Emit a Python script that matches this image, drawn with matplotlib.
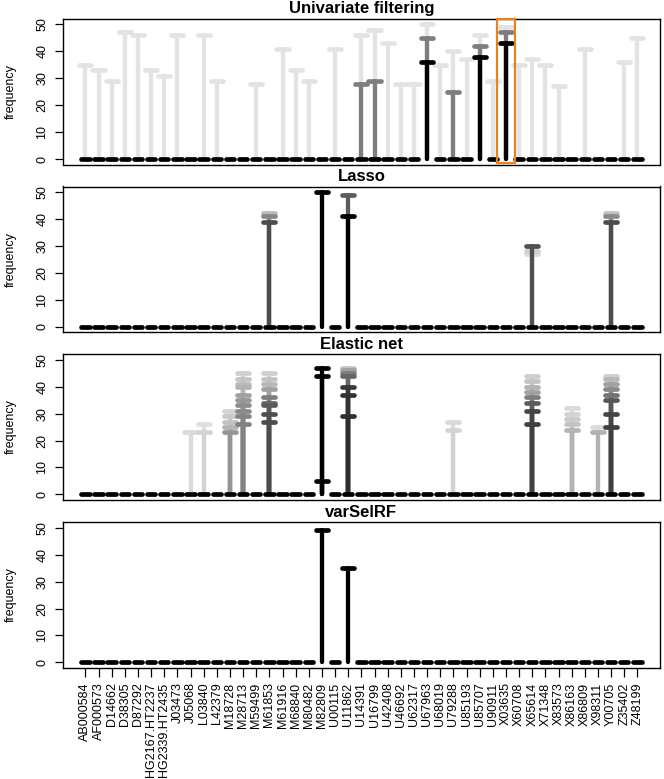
import matplotlib
matplotlib.use("Agg")
import matplotlib.pyplot as plt
from matplotlib.patches import Rectangle

plt.rcParams['font.family'] = ['Liberation Sans', 'DejaVu Sans']

genes = ["AB000584", "AF000573", "D14662", "D38305", "D87292", "HG2167.HT2237",
         "HG2339.HT2435", "J03473", "J05068", "L03840", "L42379", "M18728",
         "M28713", "M59499", "M61853", "M61916", "M68840", "M80482", "M82809",
         "U00115", "U11862", "U14391", "U16799", "U42408", "U46692", "U62317",
         "U67963", "U68019", "U79288", "U85193", "U85707", "U90911", "X03635",
         "X60708", "X65614", "X71348", "X83573", "X86163", "X86809", "X98311",
         "Y00705", "Z35402", "Z48199"]

# each panel: gene, selection frequency, weight (share of runs, 1 = darkest)
uni_gene = ["AB000584", "AF000573", "D14662", "D38305", "D87292", "HG2167.HT2237",
            "HG2339.HT2435", "J03473", "L03840", "L42379", "M59499", "M61916",
            "M68840", "M80482", "U00115", "U14391", "U14391", "U16799", "U16799",
            "U42408", "U46692", "U62317", "U67963", "U67963", "U67963", "U68019",
            "U79288", "U79288", "U85193", "U85707", "U85707", "U85707", "U90911",
            "X03635", "X03635", "X03635", "X60708", "X65614", "X71348", "X83573",
            "X86809", "Z35402", "Z48199"]
uni_freq = [35, 33, 29, 47, 46, 33, 31, 46, 46, 29, 28, 41, 33, 29, 41, 46, 28, 48, 29,
            43, 28, 28, 50, 45, 36, 35, 40, 25, 37, 46, 42, 38, 29, 49, 47, 43, 35, 37,
            35, 27, 41, 36, 45]
uni_wt = [0.01, 0.01, 0.01, 0.01, 0.01, 0.01, 0.01, 0.01, 0.01, 0.01, 0.01, 0.01, 0.01,
          0.01, 0.01, 0.01, 0.45, 0.01, 0.45, 0.01, 0.01, 0.01, 0.01, 0.45, 1.0, 0.01,
          0.01, 0.45, 0.01, 0.01, 0.45, 1.0, 0.01, 0.01, 0.45, 1.0, 0.01, 0.01, 0.01,
          0.01, 0.01, 0.01, 0.01]
uni_no_zero = ["U67963", "U85707", "X03635"]

lasso_gene = ["M61853", "M61853", "M61853", "M82809", "U11862", "U11862",
              "X65614", "X65614", "X65614", "Y00705", "Y00705", "Y00705"]
lasso_freq = [42, 41, 39, 50, 49, 41, 30, 28, 27, 42, 41, 39]
lasso_wt = [0.19, 0.41, 0.67, 1.0, 0.6, 1.0, 0.65, 0.1, 0.05, 0.15, 0.4, 0.67]
lasso_no_zero = ["M82809", "U11862"]

enet_gene = (["J05068"] + ["L03840"] * 2 + ["M18728"] * 5 + ["M28713"] * 10 +
             ["M61853"] * 9 + ["M82809"] * 3 + ["U11862"] * 7 + ["U79288"] * 2 +
             ["X65614"] * 8 + ["X86163"] * 5 + ["X98311"] * 2 + ["Y00705"] * 8)
enet_freq = [23,
             26, 23,
             31, 29, 27, 25, 23,
             45, 43, 41, 40, 37, 35, 33, 31, 29, 26,
             45, 43, 41, 39, 36, 34, 33, 30, 27,
             47, 44, 5,
             47, 46, 45, 44, 40, 37, 29,
             27, 24,
             44, 42, 40, 38, 36, 34, 31, 26,
             32, 30, 28, 26, 24,
             25, 23,
             44, 43, 41, 39, 37, 35, 30, 25]
enet_wt = [0.05,
           0.03, 0.08,
           0.08, 0.12, 0.16, 0.22, 0.35,
           0.1, 0.14, 0.18, 0.22, 0.3, 0.34, 0.38, 0.4, 0.42, 0.44,
           0.1, 0.15, 0.2, 0.3, 0.45, 0.55, 0.6, 0.65, 0.67,
           1.0, 0.97, 0.97,
           0.15, 0.3, 0.45, 0.55, 0.75, 0.78, 0.8,
           0.05, 0.08,
           0.1, 0.15, 0.22, 0.3, 0.45, 0.6, 0.7, 0.72,
           0.05, 0.08, 0.12, 0.15, 0.22,
           0.05, 0.22,
           0.1, 0.2, 0.3, 0.4, 0.5, 0.62, 0.7, 0.72]
enet_no_zero = ["M82809"]

rf_gene = ["M82809", "U11862"]
rf_freq = [49, 35]
rf_wt = [1.0, 1.0]
rf_no_zero = ["M82809", "U11862"]

panels = [
    ("Univariate filtering", uni_gene, uni_freq, uni_wt, uni_no_zero),
    ("Lasso", lasso_gene, lasso_freq, lasso_wt, lasso_no_zero),
    ("Elastic net", enet_gene, enet_freq, enet_wt, enet_no_zero),
    ("varSelRF", rf_gene, rf_freq, rf_wt, rf_no_zero),
]
highlight = "X03635"


def shade(w):
    return str(round(0.9 * (1 - w), 3))


W, H = 664, 779
fig = plt.figure(figsize=(W / 100, H / 100), dpi=100)
left, right = 63.3, 659.5
tops = [19, 186.5, 354.3, 522.3]
ph = 145.5
pos = {g: i for i, g in enumerate(genes)}

for k, (title, g, f, w, nz) in enumerate(panels):
    ax = fig.add_axes([left / W, 1 - (tops[k] + ph) / H, (right - left) / W, ph / H])
    # lighter entries first so the dominant ones sit on top
    entries = sorted(zip(w, f, g), key=lambda e: e[0])
    for wt, fr, gn in entries:
        x = pos[gn]
        c = shade(wt)
        ax.plot([x, x], [0, fr], color=c, lw=3.1, solid_capstyle='round')
        ax.plot([x - 0.46, x + 0.46], [fr, fr], color=c, lw=3.4, solid_capstyle='round')
    for gn in genes:
        if gn in nz:
            continue
        x = pos[gn]
        ax.plot([x - 0.32, x + 0.32], [0, 0], color='black', lw=3.4, solid_capstyle='round')

    ax.set_xlim(-1.68, len(genes) - 1 + 1.68)
    ax.set_ylim(-2, 52)
    ax.set_yticks([0, 10, 20, 30, 40, 50])
    ax.tick_params(axis='y', direction='out', length=5.8, width=0.9, pad=5,
                   labelsize=9, labelrotation=90)
    for lab in ax.get_yticklabels():
        lab.set_va('center')
    for s in ax.spines.values():
        s.set_linewidth(1.0)
    ax.set_title(title, fontsize=12, fontweight='bold', pad=4)
    fig.text(11 / W, 1 - (tops[k] + ph / 2) / H, "frequency", rotation=90,
             ha='center', va='center', fontsize=9)

    if k == 0:
        xh = pos[highlight]
        ax.add_patch(Rectangle((xh - 0.65, -1.5), 1.3, 53.5, fill=False,
                               edgecolor='#e8821e', lw=1.6, clip_on=False, zorder=5))
    if k == len(panels) - 1:
        ax.set_xticks(range(len(genes)))
        ax.set_xticklabels(genes, rotation=90, fontsize=9)
        ax.tick_params(axis='x', direction='out', length=6.5, width=0.9, pad=4)
    else:
        ax.set_xticks([])

fig.savefig("out.png", dpi=100)
